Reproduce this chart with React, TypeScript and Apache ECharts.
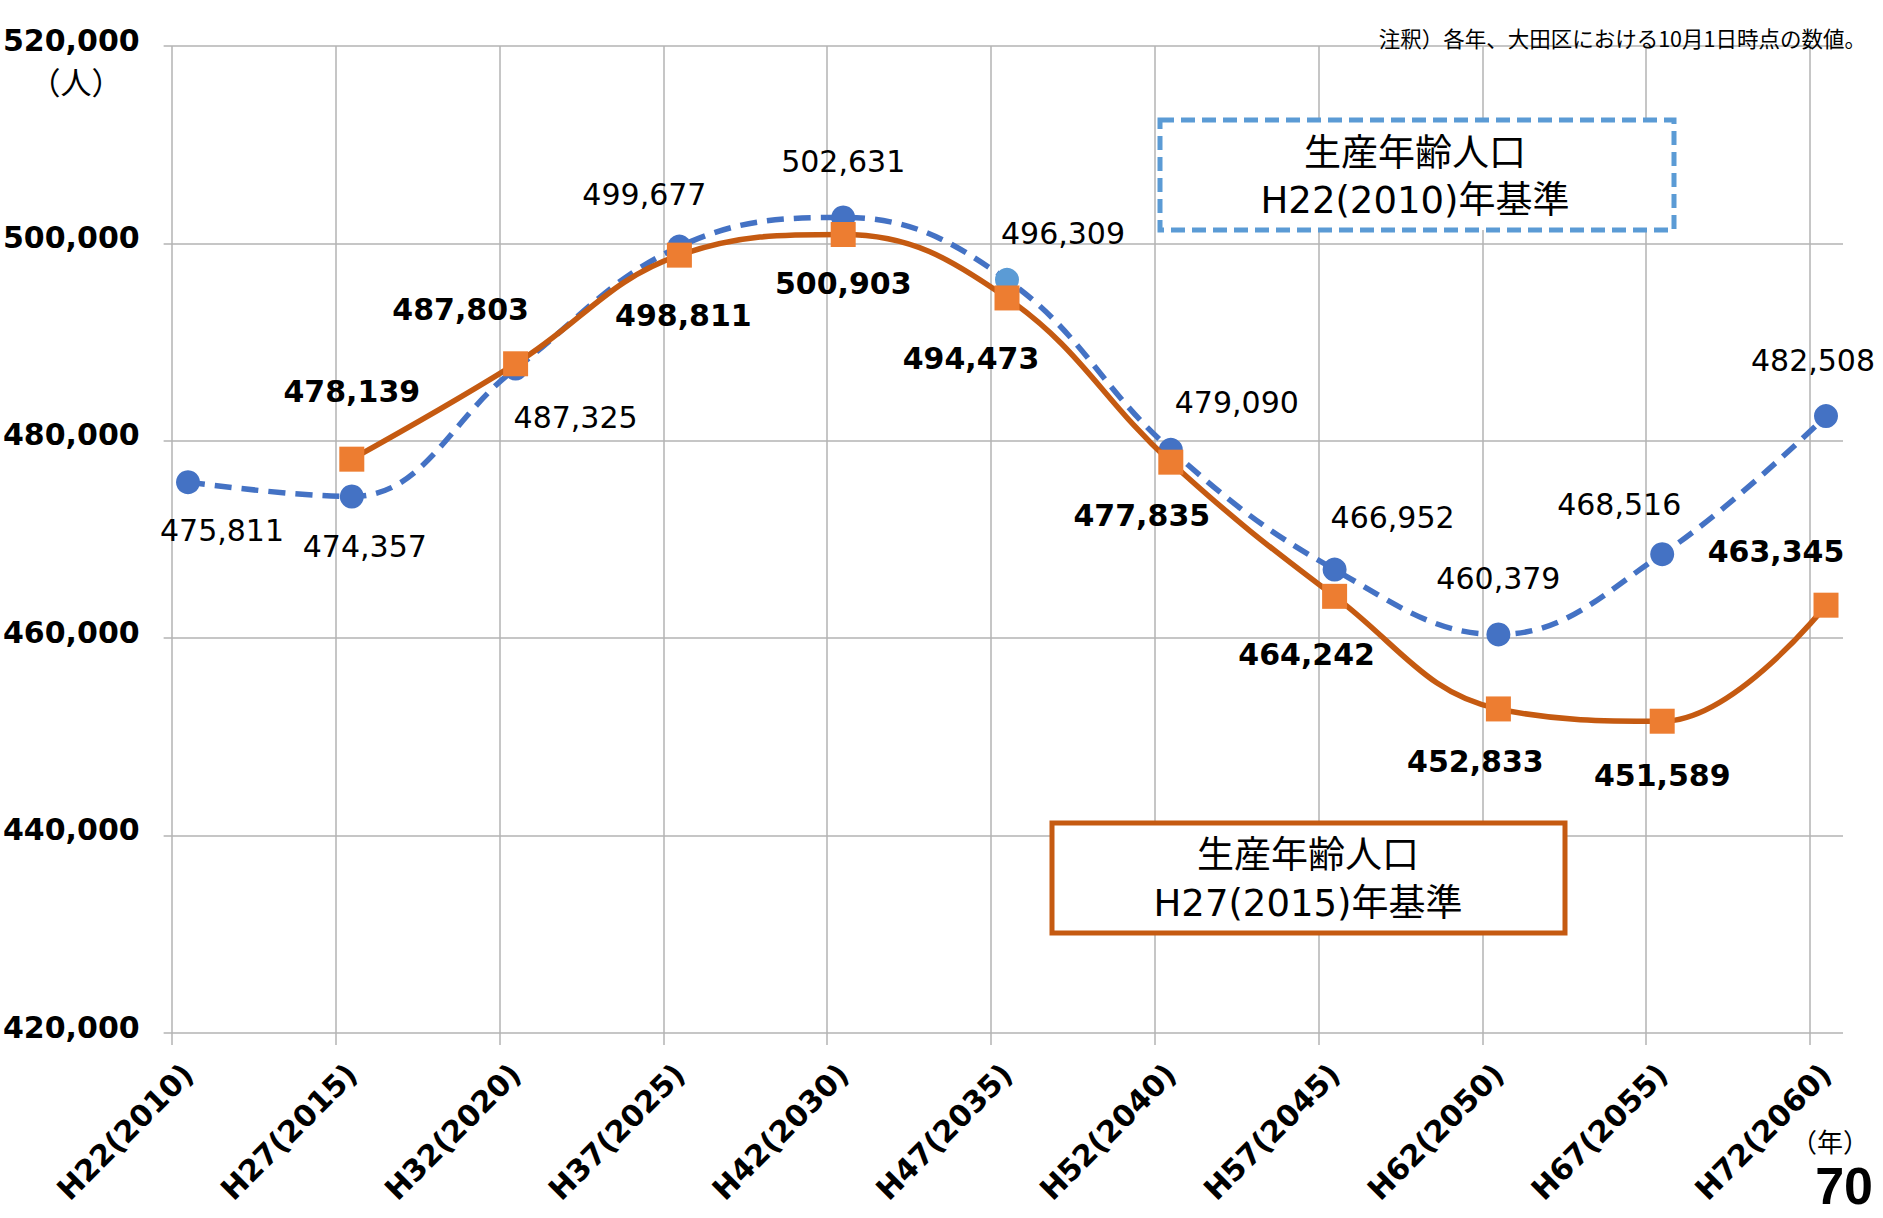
import React, { useEffect, useRef } from 'react';
import * as echarts from 'echarts';

const categories = ['H22(2010)', 'H27(2015)', 'H32(2020)', 'H37(2025)', 'H42(2030)', 'H47(2035)', 'H52(2040)', 'H57(2045)', 'H62(2050)', 'H67(2055)', 'H72(2060)'];
const base2010 = [475811, 474357, 487325, 499677, 502631, 496309, 479090, 466952, 460379, 468516, 482508];
const base2015: (number | null)[] = [null, 478139, 487803, 498811, 500903, 494473, 477835, 464242, 452833, 451589, 463345];
const yMin = 420000;
const yMax = 520000;
const yStep = 20000;

const name2010 = '生産年齢人口 H22(2010)年基準';
const name2015 = '生産年齢人口 H27(2015)年基準';

// label offsets (style only)
const blueOffsets = [[34, 48], [13, 50], [60, 49], [-35, -52], [0, -56], [56, -46], [66, -47], [58, -52], [0, -56], [-43, -50], [-13, -56]];
const orangeOffsets = [[0, 0], [0, -68], [-55, -54], [4, 60], [0, 49], [-36, 61], [-29, 53], [-28, 58], [-23, 53], [0, 54], [-50, -54]];

const fmt = (v: number) => Number(v).toLocaleString('en-US');
const GRID = '#b3b3b3';
const BOX_FONT = "'DejaVu Sans', 'Noto Sans CJK JP', sans-serif";

const centerText = (x: number, y: number, text: string, fontSize: number, fontFamily: string, extra: any = {}) => ({
  type: 'text', z: 101, x, y,
  style: { text, fontSize, fontFamily, fill: '#000', align: 'center', verticalAlign: 'middle', textAlign: 'center', textVerticalAlign: 'middle', ...extra },
});

export default function App() {
  const ref = useRef<HTMLDivElement>(null);
  useEffect(() => {
    const chart = echarts.init(ref.current!, null, { renderer: 'svg' });
    const hiddenY = (g: number) => ({ gridIndex: g, type: 'value', min: yMin, max: yMax, show: false });
    const option: any = {
      animation: false,
      backgroundColor: '#fff',
      grid: [
        { left: 162, right: 40, top: 46, bottom: 185 },
        { left: 172, width: 1638, top: 46, bottom: 185 },
        { left: 188, width: 1638, top: 46, bottom: 185 },
      ],
      xAxis: [
        { gridIndex: 0, type: 'value', min: 0, max: 1, show: false },
        {
          gridIndex: 1, type: 'category', data: categories, boundaryGap: false,
          axisLine: { show: false },
          axisTick: { show: true, length: 12, lineStyle: { color: GRID, width: 1.5 } },
          axisLabel: { show: false },
          splitLine: { show: true, lineStyle: { color: GRID, width: 1.5 } },
        },
        {
          gridIndex: 2, type: 'category', data: categories, boundaryGap: false,
          axisLine: { show: false }, axisTick: { show: false }, splitLine: { show: false },
          axisLabel: { rotate: 45, margin: 36, interval: 0, fontFamily: 'DejaVu Sans', fontWeight: 'bold', fontSize: 30, color: '#000' },
        },
      ],
      yAxis: [
        {
          gridIndex: 0, type: 'value', min: yMin, max: yMax, interval: yStep,
          axisLine: { show: false }, axisTick: { show: false },
          splitLine: { show: true, lineStyle: { color: GRID, width: 1.5 } },
          axisLabel: { formatter: (v: number) => fmt(v), margin: 24, fontFamily: 'DejaVu Sans', fontWeight: 'bold', fontSize: 30, color: '#000', verticalAlign: 'bottom', lineHeight: 12 },
        },
        hiddenY(1),
        hiddenY(2),
      ],
      series: [
        {
          name: name2010, type: 'line', xAxisIndex: 2, yAxisIndex: 2, smooth: 0.4,
          symbol: 'circle', symbolSize: 24, z: 3,
          lineStyle: { color: '#4472c4', width: 5.5, type: [17, 10] },
          itemStyle: { color: '#4472c4' },
          label: { show: true, position: 'inside', fontFamily: 'DejaVu Sans', fontSize: 30, color: '#000', formatter: (p: any) => fmt(p.value) },
          data: base2010.map((v, i) => ({
            value: v,
            label: { offset: blueOffsets[i] },
            itemStyle: i === 5 ? { color: '#5b9bd5' } : undefined,
          })),
        },
        {
          name: name2015, type: 'line', xAxisIndex: 2, yAxisIndex: 2, smooth: 0.4,
          symbol: 'rect', symbolSize: 25, z: 4,
          lineStyle: { color: '#c55a11', width: 5.5 },
          itemStyle: { color: '#ed7d31' },
          label: { show: true, position: 'inside', fontFamily: 'DejaVu Sans', fontWeight: 'bold', fontSize: 30, color: '#000', formatter: (p: any) => fmt(p.value) },
          data: base2015.map((v, i) => (v === null ? '-' : { value: v, label: { offset: orangeOffsets[i] } })),
        },
      ],
      graphic: [
        {
          type: 'rect', z: 100, shape: { x: 1160, y: 120, width: 514, height: 110 },
          style: { fill: '#fff', stroke: '#5b9bd5', lineWidth: 5, lineDash: [14, 7] },
        },
        centerText(1415, 153, '生産年齢人口', 37, BOX_FONT),
        centerText(1415, 200, 'H22(2010)年基準', 37, BOX_FONT),
        {
          type: 'rect', z: 100, shape: { x: 1052, y: 823, width: 513, height: 110 },
          style: { fill: '#fff', stroke: '#c55a11', lineWidth: 5 },
        },
        centerText(1308, 855, '生産年齢人口', 37, BOX_FONT),
        centerText(1308, 903, 'H27(2015)年基準', 37, BOX_FONT),
        centerText(76, 80, '（人）', 31, 'Noto Sans CJK JP'),
        { type: 'text', z: 101, x: 1866, y: 37, style: { text: '注釈）各年、大田区における10月1日時点の数値。', fontSize: 21.5, fontFamily: 'Noto Sans CJK JP', fill: '#000', align: 'right', verticalAlign: 'middle', textAlign: 'right', textVerticalAlign: 'middle' } },
        centerText(1830, 1140, '（年）', 26, 'Noto Sans CJK JP'),
        { type: 'text', z: 101, x: 1873, y: 1186, style: { text: '70', fontSize: 52, fontWeight: 'bold', fontFamily: 'Liberation Sans', fill: '#000', align: 'right', verticalAlign: 'middle', textAlign: 'right', textVerticalAlign: 'middle' } },
      ],
    };
    chart.setOption(option);
    return () => chart.dispose();
  }, []);
  return <div ref={ref} style={{ position: 'fixed', left: 0, top: 0, width: 1883, height: 1218, background: '#fff' }} />;
}
